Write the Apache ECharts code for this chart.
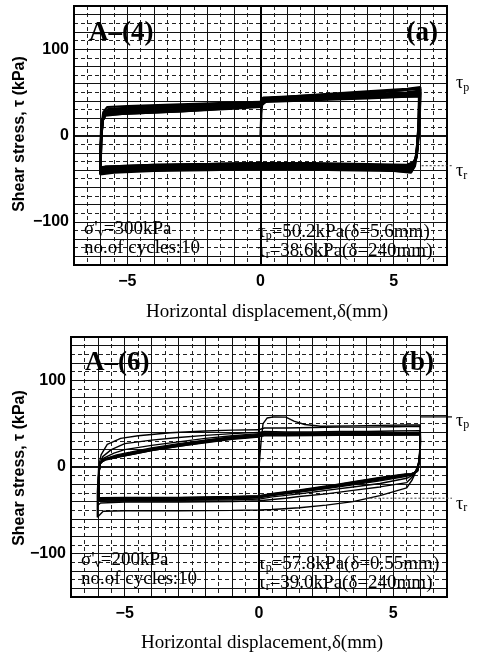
<!DOCTYPE html>
<html><head><meta charset="utf-8">
<script src="https://cdn.jsdelivr.net/npm/echarts@6/dist/echarts.min.js"></script>
<style>html,body{margin:0;padding:0;background:#fff}#c{width:479px;height:655px}</style>
</head><body><div id="c"></div>
<script>
// ---- tick labels ----
const xTickLabels = [-5, 0, 5];
const yTickLabels = [-100, 0, 100];

// ---- panel (a): A-(4), sigma'v = 300 kPa, 10 cycles ----
const a1 = [[0,0],[0.03,25],[0.08,42],[0.5,44],[2,47],[4,51],[5.5,54],[6.0,56],[5.98,20],[5.9,-15],[5.8,-35],[5.65,-43],[5,-41],[3,-40],[1,-39],[0,-39],[-2,-40],[-4,-41],[-5.5,-43],[-6.02,-45],[-6.02,-20],[-5.98,10],[-5.9,27],[-5.75,33],[-5,34],[-3,36],[-1,38],[0,39]];
const a2 = [[0,39],[0.1,44],[1,45],[3,48],[5,52],[6.0,54],[5.97,15],[5.88,-20],[5.78,-36],[5.6,-41],[4.5,-39],[2,-38],[0,-38],[-2,-39],[-4,-40],[-5.6,-42],[-6.0,-43],[-6.0,-15],[-5.96,12],[-5.88,26],[-5.7,31],[-4.5,33],[-2.5,35],[-0.5,38],[0,39]];
const a3 = [[0,39],[0.1,43],[1.5,45],[3.5,48],[5.2,52],[5.95,55],[5.95,18],[5.86,-18],[5.76,-37],[5.55,-42],[4,-39],[2,-38],[0,-37],[-2,-38],[-4,-39],[-5.7,-41],[-6.0,-42],[-6.0,-12],[-5.95,14],[-5.85,27],[-5.6,30],[-4,32],[-2,35],[0,38]];
const a4 = [[0,38],[0.2,43],[2,45],[4,48],[5.5,50],[5.97,52],[5.94,16],[5.85,-22],[5.74,-35],[5.6,-39],[4.5,-37],[2.5,-36],[0,-36],[-2.5,-37],[-4.5,-38],[-5.8,-40],[-6.0,-41],[-5.99,-10],[-5.94,15],[-5.84,26],[-5.5,29],[-3.5,32],[-1.5,35],[0,37]];
const a5 = [[0,37],[0.2,42],[1,43],[3,45],[5,48],[6.0,50],[5.96,12],[5.87,-20],[5.76,-36],[5.5,-39],[4,-37],[2,-36],[0,-35],[-2,-36],[-4,-37],[-5.7,-39],[-6.0,-40],[-5.98,-8],[-5.93,16],[-5.82,26],[-5.4,28],[-3,31],[-1,34],[0,36]];
const a6 = [[0,36],[0.2,41],[1.5,43],[3.5,46],[5.3,48],[5.98,49],[5.95,10],[5.86,-22],[5.75,-34],[5.5,-38],[4,-36],[2,-35],[0,-34],[-2,-35],[-4,-36],[-5.8,-38],[-6.0,-40],[-5.98,-5],[-5.93,17],[-5.83,25],[-5.3,27],[-3,30],[-1,33],[0,35]];
const a7 = [[0,35],[0.2,41],[2,43],[4,46],[5.5,47],[5.97,48],[5.95,10],[5.86,-24],[5.74,-33],[5.5,-37],[4,-35],[2,-34],[0,-33],[-2,-34],[-4,-35],[-5.8,-37],[-6.0,-39],[-5.98,-5],[-5.92,18],[-5.82,24],[-5.2,26],[-3,29],[-1,33],[0,35]];
const a8 = [[0,35],[0.2,40],[2,42],[4,45],[5.5,46],[5.96,47],[5.93,8],[5.85,-25],[5.73,-32],[5.5,-36],[4,-34],[2,-33],[0,-32],[-2,-33],[-4,-35],[-5.8,-37],[-6.0,-38],[-5.98,-4],[-5.92,18],[-5.82,24],[-5.2,26],[-3,29],[-1,32],[0,34]];
const a9 = [[0,34],[0.2,40],[2,42],[4,44],[5.5,45],[5.96,46],[5.93,6],[5.84,-26],[5.72,-32],[5.5,-35],[4,-34],[2,-33],[0,-32],[-2,-33],[-4,-34],[-5.8,-36],[-6.0,-38],[-5.98,-3],[-5.92,18],[-5.82,24],[-5.2,25],[-3,28],[-1,32],[0,34]];
const a10 = [[0,34],[0.2,39],[2,41],[4,43],[5.5,45],[5.95,45],[5.93,5],[5.84,-27],[5.72,-31],[5.5,-34],[4,-33],[2,-32],[0,-32],[-2,-33],[-4,-34],[-5.8,-36],[-6.0,-37],[-5.98,-2],[-5.92,18],[-5.82,23],[-5.2,25],[-3,28],[-1,31],[0,33]];

// ---- panel (b): A-(6), sigma'v = 200 kPa, 10 cycles ----
const b1 = [[0,0],[0.08,30],[0.15,50],[0.3,56.5],[0.55,57.8],[1.0,57.5],[1.3,53],[1.7,49],[2.3,47],[3.5,47.5],[4.5,48],[5.5,48.5],[6.0,48.5],[6.02,30],[5.98,10],[5.85,-5],[5.7,-15],[5.5,-24],[4.5,-33],[3.5,-40],[2.5,-44],[1.5,-47],[0.5,-49],[0,-49.6],[-1,-50],[-3,-50.5],[-5,-50.5],[-5.8,-51],[-6.02,-58],[-6.02,-30],[-5.97,0],[-5.88,14],[-5.65,26],[-5.15,33],[-4.5,36],[-3.3,39.5],[-2,41.5],[-1,42.5],[0,43]];
const b2 = [[0,43],[0.2,45],[1,45],[2,45.5],[3,46],[4,46],[5,46.5],[6.0,47],[6.0,25],[5.94,3],[5.75,-10],[5.5,-18],[4.5,-23],[3.5,-27],[2.5,-31],[1.5,-34],[1,-36],[0,-39],[-1,-40],[-3,-40.5],[-5,-40.5],[-5.9,-41.5],[-6.0,-44],[-6.0,-20],[-5.95,0],[-5.82,12],[-5.5,20],[-5,27],[-4,31],[-3,34],[-2,36.5],[-1,38.5],[0,40]];
const b3 = [[0,40],[0.2,41],[1,40.5],[2,40.5],[3,41],[4,41],[5,41.5],[6.0,42],[6.0,20],[5.93,0],[5.75,-9],[5.5,-13],[4.5,-19],[3.5,-23],[2.5,-27],[1.5,-31],[0.5,-34.5],[0,-37],[-1,-38],[-3,-38.5],[-5,-38.5],[-5.95,-39.5],[-5.98,-15],[-5.93,2],[-5.8,10],[-5.4,16],[-5,20],[-4,25],[-3,29],[-2,33],[-1,36],[0,38.5]];
const b4 = [[0,38.5],[0.2,39],[1,38.5],[3,39],[5,39.5],[6.0,40],[5.99,18],[5.92,-2],[5.72,-9],[5.45,-11],[4.5,-16],[3.5,-20.5],[2.5,-25],[1.5,-29],[0.5,-33],[0,-35.5],[-1,-37],[-3,-37.5],[-5,-37.5],[-5.95,-38.5],[-5.98,-12],[-5.92,3],[-5.78,9],[-5.3,14],[-4.8,17],[-4,22],[-3,27],[-2,31],[-1,35],[0,37.5]];
const b5 = [[0,37.5],[0.2,38],[1,38],[3,38.5],[5,39],[6.0,39.5],[5.99,16],[5.92,-3],[5.7,-9],[5.45,-10],[4.5,-15],[3.5,-19.5],[2.5,-24.5],[1.5,-28.5],[0.5,-32.5],[0,-35],[-1,-36],[-3,-37],[-5,-37],[-5.95,-38],[-5.97,-10],[-5.91,4],[-5.76,9],[-5.3,13],[-4.8,16],[-4,21],[-3,26],[-2,30.5],[-1,34.5],[0,37]];
const b6 = [[0,37],[0.2,37.5],[1,37.5],[3,38],[5,38.5],[6.0,39],[5.99,15],[5.91,-4],[5.7,-9],[5.45,-9.5],[4.5,-14],[3.5,-19],[2.5,-24],[1.5,-28],[0.5,-32],[0,-34.5],[-1,-35.5],[-3,-36.5],[-5,-36.5],[-5.95,-37.5],[-5.97,-9],[-5.9,5],[-5.74,9],[-5.3,12.5],[-4.8,15.5],[-4,20.5],[-3,25.5],[-2,30],[-1,34],[0,36.5]];
const b7 = [[0,36.5],[0.2,37.5],[1,37],[3,37.5],[5,38],[6.0,38.5],[5.99,14],[5.9,-4],[5.68,-8.5],[5.45,-9],[4.5,-13.5],[3.5,-18.5],[2.5,-23.5],[1.5,-27.5],[0.5,-31.5],[0,-34],[-1,-35],[-3,-36],[-5,-36.5],[-5.95,-37],[-5.97,-8],[-5.9,5],[-5.73,9],[-5.3,12],[-4.8,15],[-4,20],[-3,25],[-2,29.5],[-1,33.5],[0,36]];
const b8 = [[0,36],[0.2,37],[1,37],[3,37],[5,37.5],[6.0,38],[5.99,13],[5.9,-5],[5.67,-8],[5.45,-8.5],[4.5,-13],[3.5,-18],[2.5,-23],[1.5,-27.5],[0.5,-31.5],[0,-34],[-1,-35],[-3,-36],[-5,-36],[-5.95,-36.5],[-5.97,-8],[-5.9,5],[-5.72,8.5],[-5.3,11.5],[-4.8,14.5],[-4,19.5],[-3,24.5],[-2,29],[-1,33],[0,35.5]];
const b9 = [[0,35.5],[0.2,36.5],[1,36.5],[3,36.5],[5,37],[6.0,37.5],[5.99,12],[5.9,-5],[5.66,-8],[5.45,-8.5],[4.5,-12.5],[3.5,-17.5],[2.5,-22.5],[1.5,-27],[0.5,-31],[0,-33.5],[-1,-34.5],[-3,-35.5],[-5,-35.5],[-5.95,-36],[-5.97,-7],[-5.9,5],[-5.72,8.5],[-5.3,11.5],[-4.8,14],[-4,19],[-3,24],[-2,28.5],[-1,32.5],[0,35]];
const b10 = [[0,35],[0.2,36],[1,36],[3,36.5],[5,37],[6.0,37],[5.99,11],[5.9,-5],[5.65,-8],[5.45,-8],[4.5,-12],[3.5,-17],[2.5,-22],[1.5,-26.5],[0.5,-30.5],[0,-33],[-1,-34],[-3,-35],[-5,-35],[-5.95,-35.5],[-5.97,-7],[-5.9,5],[-5.72,8],[-5.3,11],[-4.8,14],[-4,19],[-3,24],[-2,28],[-1,32],[0,34.5]];

const cyclesA = [a1,a2,a3,a4,a5,a6,a7,a8,a9,a10];
const cyclesB = [b1,b2,b3,b4,b5,b6,b7,b8,b9,b10];

// reference levels
const tauRLevelA = -35;
const tauPLevelA = 53;
const tauPLevelB = 57.8;
const tauRLevelB = -36;

const SANS = 'Liberation Sans, Arial, sans-serif';
const SERIF = 'Liberation Serif, Times New Roman, serif';

const chart = echarts.init(document.getElementById('c'));

function fmtNum(v){ v = Math.round(v); return v < 0 ? '\u2212' + Math.abs(v) : String(v); }

function xAx(gi){
  return {type:'value', gridIndex:gi, min:-7, max:7, interval:1,
    axisLine:{show:false, onZero:false}, axisTick:{show:false},
    axisLabel:{margin:9, fontFamily:SANS, fontWeight:'bold', fontSize:16, color:'#000',
      formatter:v => xTickLabels.includes(Math.round(v*1000)/1000) ? fmtNum(v) : ''},
    splitLine:{show:true, lineStyle:{color:'#111', width:1}},
    minorTick:{show:false, splitNumber:2},
    minorSplitLine:{show:true, lineStyle:{color:'#222', width:1, type:[4,3]}}};
}
function yAx(gi){
  return {type:'value', gridIndex:gi, min:-150, max:150, interval:10,
    axisLine:{show:false, onZero:false}, axisTick:{show:false},
    axisLabel:{margin:5, fontFamily:SANS, fontWeight:'bold', fontSize:16, color:'#000',
      formatter:v => yTickLabels.includes(Math.round(v)) ? fmtNum(v) : ''},
    splitLine:{show:true, lineStyle:{color:'#222', width:1, type:[4,3]}}};
}
function gridLines(gi){
  const d = [];
  for (let v = -140; v <= 140; v += 20) d.push({yAxis:v, lineStyle:{type:'solid', color:'#111', width: v===0 ? 2 : 1}});
  d.push({xAxis:0, lineStyle:{type:'solid', color:'#000', width:2}});
  return {type:'line', xAxisIndex:gi, yAxisIndex:gi, data:[], silent:true, z:1,
    markLine:{silent:true, symbol:'none', animation:false, label:{show:false}, data:d}};
}
function cycleSeries(list, gi, w){
  return list.map(c => ({type:'line', xAxisIndex:gi, yAxisIndex:gi, data:c, showSymbol:false, z:5,
    silent:true, lineStyle:{color:'#000', width:w}, animation:false}));
}

chart.setOption({
  animation:false,
  backgroundColor:'#fff',
  grid:[
    {left:74, top:6, width:373, height:259, show:true, borderColor:'#000', borderWidth:2, backgroundColor:'transparent', z:10},
    {left:71, top:337, width:376, height:260, show:true, borderColor:'#000', borderWidth:2, backgroundColor:'transparent', z:10}
  ],
  xAxis:[xAx(0), xAx(1)],
  yAxis:[yAx(0), yAx(1)],
  series:[gridLines(0), gridLines(1)].concat(cycleSeries(cyclesA,0,2.2), cycleSeries(cyclesB,1,1.4))
});

const pa = (x,y) => chart.convertToPixel({gridIndex:0}, [x,y]);
const pb = (x,y) => chart.convertToPixel({gridIndex:1}, [x,y]);

const rich = {
  n:{fontFamily:SERIF, fontSize:19, color:'#000', lineHeight:20, verticalAlign:'middle'},
  s:{fontFamily:SERIF, fontSize:12, color:'#000', lineHeight:12, verticalAlign:'bottom'}
};
const richTau = {
  n:{fontFamily:SERIF, fontSize:18, color:'#000', lineHeight:20, verticalAlign:'middle'},
  s:{fontFamily:SERIF, fontSize:12, color:'#000', lineHeight:12, verticalAlign:'bottom'}
};
function txt(x, y, text, font, opts){
  return {type:'text', x:x, y:y, z:20, silent:true,
    style:Object.assign({text:text, fill:'#000', font:font, align:'left', verticalAlign:'middle'}, opts||{})};
}
function rtxt(x, y, text, r, align){
  return {type:'text', x:x, y:y, z:20, silent:true,
    style:{text:text, rich:r, align:align||'left', verticalAlign:'middle'}};
}

const ra0 = pa(6.05, tauRLevelA), rb0 = pb(4.0, tauRLevelB), pb0 = pb(6.0, tauPLevelB);
const tpa = pa(7, tauPLevelA), tra = pa(7, tauRLevelA), tpb = pb(7, tauPLevelB), trb = pb(7, tauRLevelB);

const g = [
  // panel a
  txt(89, 33, 'A\u2013(4)', 'bold 27px ' + SERIF),
  txt(438, 33, '(a)', 'bold 27px ' + SERIF, {align:'right'}),
  rtxt(84, 229, "{n|\u03c3'}{s|v}{n|=300kPa}", rich),
  txt(84, 248, 'no.of cycles:10', '19px ' + SERIF),
  rtxt(258, 232, '{n|\u03c4}{s|p}{n|=50.2kPa(\u03b4=5.6mm)}', rich),
  rtxt(258, 251, '{n|\u03c4}{s|r}{n|=38.6kPa(\u03b4=240mm)}', rich),
  rtxt(456, tpa[1]-6, '{n|\u03c4}{s|p}', richTau),
  rtxt(456, tra[1]+6, '{n|\u03c4}{s|r}', richTau),
  {type:'line', z:20, silent:true, shape:{x1:ra0[0], y1:ra0[1], x2:453, y2:ra0[1]}, style:{stroke:'#333', lineWidth:1, lineDash:[2,2]}},
  txt(267, 312, 'Horizontal displacement,\u03b4(mm)', '19px ' + SERIF, {align:'center'}),
  {type:'text', x:20, y:134, rotation:Math.PI/2, z:20, silent:true,
    style:{text:'Shear stress, \u03c4 (kPa)', font:'bold 16px ' + SANS, fill:'#000', align:'center', verticalAlign:'middle'}},
  // panel b
  txt(85, 363, 'A\u2013(6)', 'bold 27px ' + SERIF),
  txt(434, 363, '(b)', 'bold 27px ' + SERIF, {align:'right'}),
  rtxt(81, 560, "{n|\u03c3'}{s|v}{n|=200kPa}", rich),
  txt(81, 579, 'no.of cycles:10', '19px ' + SERIF),
  rtxt(258, 564, '{n|\u03c4}{s|p}{n|=57.8kPa(\u03b4=0.55mm)}', rich),
  rtxt(258, 583, '{n|\u03c4}{s|r}{n|=39.0kPa(\u03b4=240mm)}', rich),
  rtxt(456, tpb[1]+4, '{n|\u03c4}{s|p}', richTau),
  rtxt(456, trb[1]+6, '{n|\u03c4}{s|r}', richTau),
  {type:'line', z:20, silent:true, shape:{x1:pb0[0], y1:pb0[1], x2:452, y2:pb0[1]}, style:{stroke:'#000', lineWidth:1.2}},
  {type:'line', z:20, silent:true, shape:{x1:rb0[0], y1:rb0[1], x2:452, y2:rb0[1]}, style:{stroke:'#444', lineWidth:1, lineDash:[2,2]}},
  txt(262, 643, 'Horizontal displacement,\u03b4(mm)', '19px ' + SERIF, {align:'center'}),
  {type:'text', x:20, y:468, rotation:Math.PI/2, z:20, silent:true,
    style:{text:'Shear stress, \u03c4 (kPa)', font:'bold 16px ' + SANS, fill:'#000', align:'center', verticalAlign:'middle'}}
];
chart.setOption({graphic:{elements:g}});
</script>
</body></html>
